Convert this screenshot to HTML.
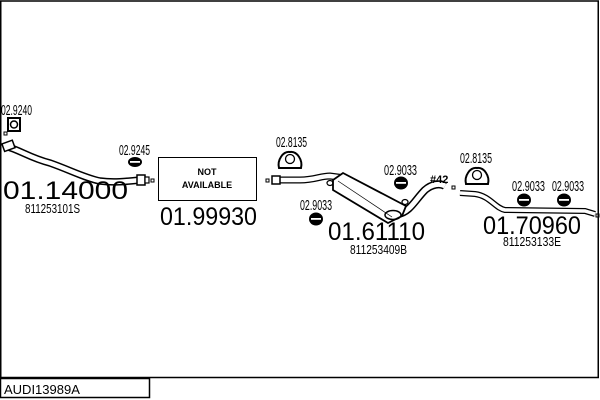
<!DOCTYPE html>
<html><head><meta charset="utf-8"><style>
html,body{margin:0;padding:0;background:#fff}
svg{display:block}
text{font-family:"Liberation Sans",sans-serif;fill:#000}
.s{font-size:14.5px}
.b{font-size:25px}
.m{font-size:13px}
</style></head><body>
<svg width="600" height="400" viewBox="0 0 600 400" xmlns="http://www.w3.org/2000/svg">
<rect x="0.75" y="1" width="597.5" height="376.5" fill="none" stroke="#000" stroke-width="1.5"/>
<rect x="0.5" y="378.5" width="149" height="19" fill="none" stroke="#000" stroke-width="1.5"/>
<text x="4" y="394" style="font-size:13px">AUDI13989A</text>

<!-- front pipe -->
<text class="s" x="1" y="115" textLength="31" lengthAdjust="spacingAndGlyphs">02.9240</text>
<rect x="8" y="118" width="12" height="13" fill="none" stroke="#000" stroke-width="2"/>
<circle cx="14" cy="124.5" r="3.5" fill="none" stroke="#000" stroke-width="1.5"/>
<rect x="4" y="132" width="3" height="3" fill="none" stroke="#000"/>
<path d="M5,146 C20,150 30,158 50,163 C70,170 85,178 100,181 C115,183 130,181 140,180" fill="none" stroke="#000" stroke-width="7.5"/>
<path d="M5,146 C20,150 30,158 50,163 C70,170 85,178 100,181 C115,183 130,181 140,180" fill="none" stroke="#fff" stroke-width="4.5"/>
<rect x="3" y="142" width="11" height="8" fill="#fff" stroke="#000" stroke-width="1.5" transform="rotate(-20 8 146)"/>
<rect x="137" y="175" width="8" height="10" fill="#fff" stroke="#000" stroke-width="1.5"/>
<rect x="145" y="177" width="4" height="6" fill="#fff" stroke="#000" stroke-width="1.2"/>
<rect x="151" y="179" width="3" height="3" fill="none" stroke="#000"/>
<text class="s" x="119" y="155" textLength="31" lengthAdjust="spacingAndGlyphs">02.9245</text>
<ellipse cx="135" cy="162" rx="7" ry="5" fill="#000"/>
<rect x="130" y="161" width="10" height="1.8" fill="#fff"/>
<text class="b" x="3" y="199" textLength="125" lengthAdjust="spacingAndGlyphs">01.14000</text>
<text class="m" x="25" y="213" textLength="55" lengthAdjust="spacingAndGlyphs">811253101S</text>

<!-- not available -->
<rect x="158.5" y="157.5" width="98" height="43" fill="#fff" stroke="#000" stroke-width="1"/>
<text x="207" y="175" text-anchor="middle" style="font-size:9px;font-weight:bold">NOT</text>
<text x="207" y="188" text-anchor="middle" style="font-size:9px;font-weight:bold">AVAILABLE</text>
<text class="b" x="160" y="225" textLength="97" lengthAdjust="spacingAndGlyphs">01.99930</text>

<!-- middle -->
<text class="s" x="276" y="147" textLength="31" lengthAdjust="spacingAndGlyphs">02.8135</text>
<path d="M279,168 C277,160 283,151 290,152 C297,151 303,160 301,168 Z" fill="none" stroke="#000" stroke-width="2"/>
<circle cx="290" cy="159" r="4.5" fill="none" stroke="#000" stroke-width="1.3"/>
<rect x="266" y="179" width="3" height="3" fill="none" stroke="#000"/>
<path d="M273,180 L300,180 C315,180 320,176 330,176 L345,178" fill="none" stroke="#000" stroke-width="7"/>
<path d="M273,180 L300,180 C315,180 320,176 330,176 L345,178" fill="none" stroke="#fff" stroke-width="4.5"/>
<rect x="272" y="176" width="8" height="8" fill="#fff" stroke="#000" stroke-width="1.5"/>
<path d="M398,214 C410,212 415,200 425,190 C432,184 440,183 445,186" fill="none" stroke="#000" stroke-width="8"/>
<path d="M398,214 C410,212 415,200 425,190 C432,184 440,183 445,186" fill="none" stroke="#fff" stroke-width="5"/>
<polygon points="333,180 343,173 406,206 402,216 388,223 333,190" fill="#fff" stroke="#000" stroke-width="1.8"/>
<line x1="338" y1="181" x2="392" y2="217" stroke="#000" stroke-width="0.7"/>
<ellipse cx="393" cy="215" rx="8" ry="4.5" fill="none" stroke="#000" stroke-width="1.5"/>
<ellipse cx="405" cy="202" rx="3" ry="2.5" fill="none" stroke="#000" stroke-width="1.2"/>
<ellipse cx="330" cy="183" rx="3" ry="2.5" fill="none" stroke="#000" stroke-width="1.2"/>
<text x="430" y="183" style="font-size:11px;font-weight:bold">#42</text>
<rect x="452" y="186" width="3" height="3" fill="none" stroke="#000"/>
<text class="s" x="384" y="175" textLength="33" lengthAdjust="spacingAndGlyphs">02.9033</text>
<ellipse cx="401" cy="183" rx="7" ry="6.5" fill="#000"/>
<rect x="396" y="182" width="10" height="1.8" fill="#fff"/>
<text class="s" x="300" y="210" textLength="32" lengthAdjust="spacingAndGlyphs">02.9033</text>
<ellipse cx="316" cy="219" rx="7" ry="6.5" fill="#000"/>
<rect x="311" y="218" width="10" height="1.8" fill="#fff"/>
<text class="b" x="328" y="240" textLength="97" lengthAdjust="spacingAndGlyphs">01.61110</text>
<text class="m" x="350" y="254" textLength="57" lengthAdjust="spacingAndGlyphs">811253409B</text>

<!-- rear -->
<text class="s" x="460" y="163" textLength="32" lengthAdjust="spacingAndGlyphs">02.8135</text>
<path d="M466,184 C464,176 470,167 477,168 C484,167 490,176 488,184 Z" fill="none" stroke="#000" stroke-width="2"/>
<circle cx="477" cy="175" r="4.5" fill="none" stroke="#000" stroke-width="1.3"/>
<path d="M460,193 L475,194 C490,196 495,208 505,210 L585,211 L595,214" fill="none" stroke="#000" stroke-width="6"/>
<path d="M460,193 L475,194 C490,196 495,208 505,210 L585,211 L595,214" fill="none" stroke="#fff" stroke-width="3.5"/>
<rect x="596" y="214" width="3" height="3" fill="none" stroke="#000"/>
<text class="s" x="512" y="191" textLength="33" lengthAdjust="spacingAndGlyphs">02.9033</text>
<ellipse cx="524" cy="200" rx="7" ry="6.5" fill="#000"/>
<rect x="519" y="199" width="10" height="1.8" fill="#fff"/>
<text class="s" x="552" y="191" textLength="32" lengthAdjust="spacingAndGlyphs">02.9033</text>
<ellipse cx="564" cy="200" rx="7" ry="6.5" fill="#000"/>
<rect x="559" y="199" width="10" height="1.8" fill="#fff"/>
<text class="b" x="483" y="234" textLength="98" lengthAdjust="spacingAndGlyphs">01.70960</text>
<text class="m" x="503" y="246" textLength="58" lengthAdjust="spacingAndGlyphs">811253133E</text>
</svg>
</body></html>
